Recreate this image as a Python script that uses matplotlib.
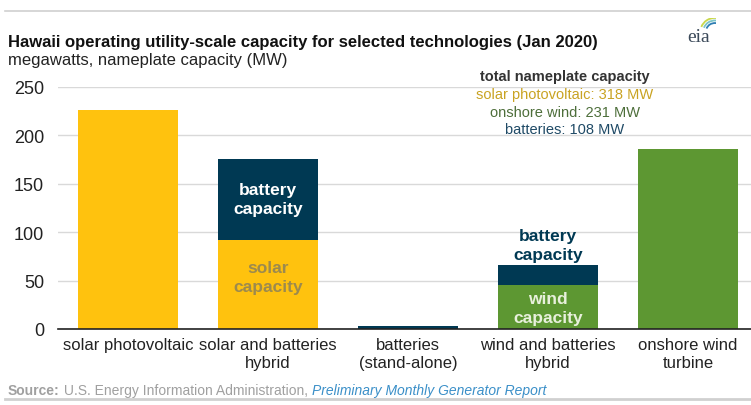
import numpy as np
import matplotlib.pyplot as plt
from matplotlib.patches import Arc
from matplotlib.lines import Line2D

plt.rcParams["font.family"] = ["Liberation Sans", "DejaVu Sans"]

# data (MW)
categories = ["solar photovoltaic", "solar and batteries\nhybrid", "batteries\n(stand-alone)",
              "wind and batteries\nhybrid", "onshore wind\nturbine"]
solar_mw = [226, 92, 0, 0, 0]
wind_mw = [0, 0, 0, 45, 186]
battery_mw = [0, 84, 3, 21, 0]
totals = ["solar photovoltaic: 318 MW", "onshore wind: 231 MW", "batteries: 108 MW"]

yellow = "#ffc20e"
navy = "#003953"
green = "#5d9732"

fig = plt.figure(figsize=(7.51, 4.06), dpi=100)
ax = fig.add_axes([58 / 751, 1 - 330 / 406, 1 - 58 / 751, (330 - 88) / 406])

x = np.arange(len(categories))
w = 100 / 140
ax.bar(x, solar_mw, width=w, color=yellow, zorder=3)
ax.bar(x, wind_mw, width=w, color=green, bottom=solar_mw, zorder=3)
base = np.array(solar_mw) + np.array(wind_mw)
ax.bar(x, battery_mw, width=w, color=navy, bottom=base, zorder=3)

ax.set_ylim(0, 250)
ax.set_xlim(-0.5, 4.45)
ax.set_yticks([0, 50, 100, 150, 200, 250])
ax.tick_params(axis="y", length=0, labelsize=13, pad=10, colors="#222222")
ax.tick_params(axis="x", length=0, labelsize=12, pad=6, colors="#222222")
ax.set_xticks(x)
ax.set_xticklabels(categories, linespacing=1.25)
ax.grid(axis="y", color="#d9d9d9", linewidth=1, zorder=0)
for s in ["top", "right", "left"]:
    ax.spines[s].set_visible(False)
ax.spines["bottom"].set_color("#222222")
ax.spines["bottom"].set_linewidth(1.2)
ax.spines["bottom"].set_zorder(4)

# labels inside the bars
ax.text(1, 134, "battery\ncapacity", ha="center", va="center", color="white",
        fontsize=12.5, fontweight="bold", linespacing=1.3, zorder=5)
ax.text(1, 54, "solar\ncapacity", ha="center", va="center", color="#9c8a4e",
        fontsize=12.5, fontweight="bold", linespacing=1.3, zorder=5)
ax.text(3, 87, "battery\ncapacity", ha="center", va="center", color=navy,
        fontsize=12.5, fontweight="bold", linespacing=1.3, zorder=5)
ax.text(3, 22, "wind\ncapacity", ha="center", va="center", color="#e8f0dc",
        fontsize=12.5, fontweight="bold", linespacing=1.3, zorder=5)

# total capacity note
fig.text(565 / 751, 1 - 77 / 406, "total nameplate capacity", ha="center", va="center",
         fontsize=10.5, fontweight="bold", color="#333333")
for txt, col, yy in zip(totals, ["#c9a322", "#4d6e3a", "#1f4a66"], [95, 113, 130]):
    fig.text(565 / 751, 1 - yy / 406, txt, ha="center", va="center", fontsize=10.5, color=col)

# title block
fig.text(8 / 751, 1 - 42 / 406, "Hawaii operating utility-scale capacity for selected technologies (Jan 2020)",
         ha="left", va="center", fontsize=12, fontweight="bold", color="#111111")
fig.text(8 / 751, 1 - 61 / 406, "megawatts, nameplate capacity (MW)",
         ha="left", va="center", fontsize=12, color="#222222")

# rules top and bottom
fig.add_artist(Line2D([5 / 751, 1], [1 - 12 / 406] * 2, color="#d0d0d0", lw=1.2))
fig.add_artist(Line2D([5 / 751, 1], [1 - 400 / 406] * 2, color="#d0d0d0", lw=2))

# source line, pieces chained one after another
src = fig.text(8 / 751, 1 - 391 / 406, "Source:", ha="left", va="center", fontsize=10,
               fontweight="bold", color="#a0a0a0")
org = ax.annotate(" U.S. Energy Information Administration, ", xy=(1, 0.5), xycoords=src,
                  ha="left", va="center", fontsize=10, color="#a0a0a0", annotation_clip=False)
ax.annotate("Preliminary Monthly Generator Report", xy=(1, 0.5), xycoords=org,
            ha="left", va="center", fontsize=10, style="italic", color="#3a8fc8",
            annotation_clip=False)

# eia logo
fig.text(699 / 751, 1 - 37 / 406, "eia", ha="center", va="center", fontsize=14,
         family=["Liberation Serif", "DejaVu Serif"], color="#3c4a5a")
lax = fig.add_axes([694 / 751, 1 - 31 / 406, 22 / 751, 12 / 406])
lax.set_xlim(0, 1)
lax.set_ylim(0, 1)
lax.axis("off")
for r, c in zip([1.3, 1.05, 0.8], ["#c9d84a", "#7cc4c8", "#2e7db3"]):
    lax.add_patch(Arc((0.95, -0.1), r, r * 1.7, theta1=20, theta2=150, color=c, lw=1.3))

fig.savefig("out.png", dpi=100)
